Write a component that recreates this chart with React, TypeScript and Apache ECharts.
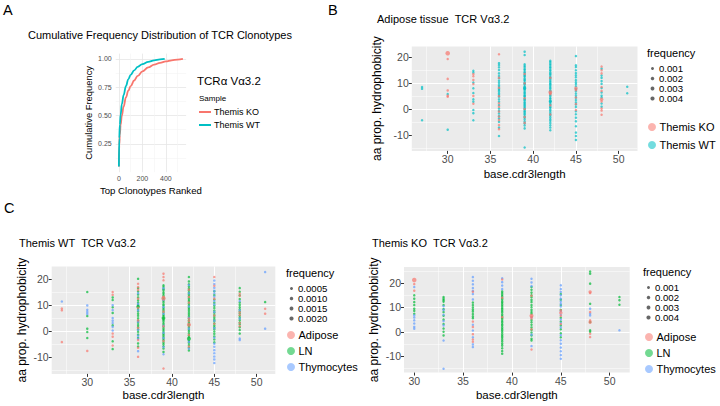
import { useEffect, useRef } from "react";
import * as echarts from "echarts";

const FONT = '"Liberation Sans", Arial, Helvetica, sans-serif';

const RED = "#F8766D";
const TEAL = "#00BFC4";
const GREEN = "#00BA38";
const BLUE = "#619CFF";

// ---- Panel A: cumulative frequency of ranked clonotypes ----
const rankKO = [0, 3, 8, 15, 25, 40, 60, 80, 100, 130, 160, 200, 250, 300, 350, 400, 450, 500, 545];
const cumKO = [0.05, 0.24, 0.33, 0.42, 0.5, 0.58, 0.66, 0.72, 0.76, 0.81, 0.85, 0.89, 0.925, 0.95, 0.966, 0.978, 0.988, 0.995, 1.0];
const rankWT = [0, 3, 8, 15, 25, 40, 60, 80, 100, 130, 160, 200, 250, 300, 350, 390];
const cumWT = [0.05, 0.3, 0.42, 0.51, 0.6, 0.68, 0.76, 0.82, 0.86, 0.9, 0.93, 0.955, 0.975, 0.988, 0.996, 1.0];
const aYTicks = [0.25, 0.5, 0.75, 1.0];
const aXTicks = [0, 200, 400];

// ---- Scatter panels: hydrophobicity per CDR3 length (bases) ----
type Cols = Record<number, number[]>;
type Heavy = [number, number, number][];

const lengthTicks = [30, 35, 40, 45, 50];
const hydroTicks = [-10, 0, 10, 20];

// B: adipose tissue, Themis KO vs Themis WT
const bKO: Cols = {
  30: [19.2, 11.6, 7.2, 5.2, 4.8],
  33: [13.4, 12.6, 11.2, 9.6, 5.1, 2.1],
  36: [21.0, 12.0, 8.2, 5.0, 2.3, 1.0, -0.9, -2.8, -4.1, -6.0, -7.6],
  39: [13.5, 9.9, 4.2, 0.1, -3.0, -5.2],
  42: [12.0, 6.2, 5.7, 1.5, -2.0],
  45: [7.3, 4.5, 2.0, -0.3],
  48: [16.3, 14.9, 13.7, 8.5, 7.0, 3.0, 0.3, -0.5, -2.1],
};
const bKOHeavy: Heavy = [[30, 21.4, 0.005], [42, 6.5, 0.003], [45, 8.0, 0.0025], [48, 3.8, 0.002]];
const bWT: Cols = {
  27: [8.5, 7.8, -4.2],
  30: [5.8, -7.8],
  33: [14.7, 14.0, 10.2, 8.0, 6.2, 3.8, 2.9, -0.3, -1.5, -4.2],
  36: [17.6, 16.9, 16.0, 15.0, 13.7, 12.7, 11.8, 10.9, 10.1, 9.2, 8.6, 7.9, 7.4, 6.8, 6.1, 5.5, 4.8, 3.8, 2.9, 1.6, 0.3, -0.6, -1.6, -2.6, -3.5, -4.8, -7.0, -10.2],
  39: [22.0, 20.7, 17.2, 16.6, 16.1, 15.4, 15.0, 14.3, 13.9, 13.2, 12.8, 12.4, 11.7, 11.3, 10.9, 10.2, 9.8, 9.5, 8.8, 8.4, 7.9, 7.6, 7.0, 6.4, 6.1, 5.5, 5.1, 4.8, 4.1, 3.7, 3.4, 2.7, 2.3, 1.8, 1.4, 0.9, 0.4, 0.0, -0.6, -1.0, -1.6, -2.0, -2.7, -3.2, -3.9, -4.7, -5.4, -6.2, -7.3, -14.6],
  42: [18.5, 18.0, 17.4, 16.9, 16.2, 15.8, 15.1, 14.7, 14.0, 13.6, 13.1, 12.4, 12.0, 11.5, 10.9, 10.4, 9.8, 9.5, 8.9, 8.3, 7.9, 7.2, 6.8, 6.0, 5.4, 5.0, 4.3, 3.9, 3.2, 2.8, 2.1, 1.7, 1.0, 0.6, -0.1, -0.6, -1.3, -1.9, -2.4, -3.1, -3.8, -4.4, -5.2, -6.1, -7.0, -8.0],
  45: [20.3, 16.8, 16.1, 14.9, 13.8, 13.0, 12.2, 11.1, 10.3, 9.6, 8.8, 7.7, 6.9, 6.0, 5.2, 4.4, 3.5, 2.6, 1.8, 0.9, -0.8, -1.9, -3.2, -4.6, -6.5, -8.9, -10.2, -11.7],
  48: [15.5, 12.9, 12.0, 10.8, 9.7, 8.1, 6.4, 5.2, 4.5, 2.2, 1.0],
  51: [8.6, 6.1],
};
const bWTHeavy: Heavy = [[39, 8.0, 0.0018], [42, 3.0, 0.0015]];
const bFreqBreaks = [0.001, 0.002, 0.003, 0.004];
const bFreqLabels = ["0.001", "0.002", "0.003", "0.004"];

// C (left): Themis WT across tissues
const c1Adipose: Cols = {
  27: [8.7, 8.0, -4.3],
  30: [-7.7],
  33: [15.1, 14.0, -1.0, -2.2, -5.6],
  36: [18.3, 17.0, 15.9, 12.5, 9.0, 4.1, 1.2, -3.5, -6.5, -10.0],
  39: [22.2, 20.9, 19.6, 13.2, 7.5, 1.8, -3.9, -14.5],
  42: [16.0, 13.2, 11.0, 4.8, 3.9, -1.5, -6.0],
  45: [20.9, 17.5, 12.5, 6.0, 2.8],
  48: [14.5, 13.6, 7.2, 6.2, 3.1, 1.9],
  51: [8.6, 6.7],
};
const c1AdiposeHeavy: Heavy = [[39, 12.6, 0.0022], [42, 2.4, 0.0018]];
const c1LN: Cols = {
  30: [15.1, 5.8, 0.9, -0.4, -2.7],
  33: [13.0, 12.0, 9.2, 7.0, 2.2, -4.0, -7.0],
  36: [20.2, 16.6, 15.3, 14.1, 13.0, 11.9, 11.0, 10.1, 9.3, 8.5, 7.6, 6.7, 5.9, 4.9, 4.0, 3.2, 2.3, 1.5, 0.6, -0.3, -1.4, -2.6, -4.8, -6.0],
  39: [17.7, 17.1, 16.3, 15.8, 15.0, 14.4, 13.7, 13.0, 12.4, 11.7, 11.1, 10.3, 9.8, 9.0, 8.4, 7.8, 7.1, 6.3, 5.8, 5.0, 4.3, 3.7, 3.0, 2.4, 1.7, 1.0, 0.4, -0.3, -1.0, -1.6, -2.3, -3.0, -3.6, -4.4, -5.1, -5.9, -6.8, -8.1],
  42: [20.9, 19.2, 18.1, 17.2, 16.4, 15.7, 14.9, 14.2, 13.5, 12.7, 12.0, 11.4, 10.6, 9.9, 9.1, 8.5, 7.8, 7.0, 6.3, 5.6, 4.9, 4.1, 3.4, 2.7, 2.0, 1.3, 0.5, -0.2, -1.0, -1.8, -2.5, -3.7, -4.5, -5.4, -6.4, -7.5],
  45: [15.4, 13.9, 12.2, 10.9, 9.8, 8.9, 7.9, 7.1, 6.2, 5.4, 4.6, 3.9, 3.0, 2.2, 1.5, 0.7, -0.2, -1.1, -2.1, -3.3, -4.4],
  48: [16.6, 15.2, 13.8, 12.4, 11.0, 10.1, 9.2, 8.4, 7.6, 6.8, 5.9, 5.1, 4.2, 3.3, 2.6, 1.5, 0.4, -1.0],
  51: [11.2],
};
const c1LNHeavy: Heavy = [[42, -3.0, 0.0018], [39, 5.0, 0.0015], [36, 9.5, 0.0012]];
const c1Thymo: Cols = {
  27: [11.4],
  30: [9.9, 8.2, 7.4, 6.6],
  33: [10.0, 8.1, 5.0, 4.0, 3.1, 1.6, 0.2],
  36: [14.6, 10.5, 8.0, 3.6, 0.5, -1.8, -3.0, -7.8],
  39: [16.5, 12.0, 9.3, 6.7, 2.0, -0.7, -2.7, -6.2, -9.0],
  42: [17.8, 14.6, 9.5, 5.1, 0.9, -4.2, -6.8],
  45: [19.5, 18.2, 16.7, 15.6, 14.6, 13.3, 11.6, 10.3, 7.4, 4.0, 1.1, -2.6, -4.9, -6.1, -7.4, -8.6, -9.9, -11.0, -12.4],
  48: [11.6, 8.0, 4.8, -2.9, -3.5],
  51: [22.8, 0.9],
};
const c1FreqBreaks = [0.0005, 0.001, 0.0015, 0.002];
const c1FreqLabels = ["0.0005", "0.0010", "0.0015", "0.0020"];

// C (right): Themis KO across tissues
const c2Adipose: Cols = {
  30: [19.6, 16.9],
  36: [16.5, 4.2, 2.0, -1.0, -3.2, -4.1],
  39: [21.5, 14.0, 6.0],
  42: [14.8, 6.2, 5.5, 1.0, -7.3],
  45: [8.8, 6.6, 3.2],
  48: [15.9, 8.1, 4.7, -0.8, -2.2],
};
const c2AdiposeHeavy: Heavy = [[30, 21.3, 0.005], [42, 6.6, 0.0035], [45, 7.8, 0.002], [48, 16.4, 0.0018], [48, 3.9, 0.0018]];
const c2LN: Cols = {
  30: [15.0, 13.6, 12.2, 11.0, 9.5, 8.6, 7.4],
  33: [14.3, 13.6, 13.0, 12.4, 11.0, 9.3, 8.1, 6.6, 5.0, 3.2, 1.3, 0.0, -1.5],
  36: [12.0, 11.0, 10.0, 9.1, 8.3, 7.3, 6.4, 5.6],
  39: [16.6, 15.9, 15.2, 14.6, 13.9, 13.3, 12.5, 11.9, 11.2, 10.6, 9.8, 9.2, 8.5, 7.9, 7.1, 6.5, 5.8, 5.2, 4.4, 3.8, 3.1, 2.5, 1.7, 1.0, 0.4, -0.3, -1.1, -1.8, -2.5, -3.3, -4.0, -4.9, -5.7, -6.8, -7.9, -9.0],
  42: [18.4, 17.3, 16.1, 15.0, 14.2, 13.1, 12.2, 11.0, 10.1, 9.0, 8.1, 7.4, 4.8, 3.9, 2.9, 1.8, 0.8, -0.3, -1.5, -2.9, -3.6],
  45: [15.5, 13.2, 11.0, 9.0, 5.8, 4.2, 2.6, 1.0, -0.6, -2.3],
  48: [24.8, 23.9, 19.8, 11.5, 4.0, 0.6, 0.0],
  51: [14.3, 13.0, 11.1],
};
const c2Thymo: Cols = {
  30: [18.4, 6.8, 5.9, 4.7, 3.4, 2.0, 1.25],
  33: [10.5, 9.0, 7.0, 4.4, 2.6, -3.6, -15.2],
  36: [22.5, 21.0, 19.5, 18.0, 16.8, 15.5, 13.3, 2.9, 0.5, -2.3, -5.2, -6.3],
  39: [22.0, 20.4, 19.0, 17.6],
  42: [21.8, 20.3, 18.8, 5.9, -1.2, -5.9],
  45: [19.1, 17.6, 16.4, 15.0, 13.7, 12.4, 11.5, 10.4, 8.4, 7.0, 5.0, 3.6, 1.8, -1.4, -3.5, -4.9, -6.5, -8.0, -9.6, -11.1],
  48: [9.5, 7.4, 6.7],
  51: [0.6],
};
const c2FreqBreaks = [0.001, 0.002, 0.003, 0.004];
const c2FreqLabels = ["0.001", "0.002", "0.003", "0.004"];

function toPoints(cols: Cols, freq: number, heavy: Heavy = []) {
  const pts: number[][] = [];
  Object.keys(cols).forEach((k) => {
    const x = Number(k);
    cols[x].forEach((y) => pts.push([x, y, freq]));
  });
  heavy.forEach((h) => pts.push([h[0], h[1], h[2]]));
  return pts;
}

const dotSize = (f: number, fmax: number) => 1.7 + 2.5 * Math.sqrt(f / fmax);

type Box = { left: number; top: number; width: number; height: number };
const boxA: Box = { left: 115.7, top: 53.6, width: 70.4, height: 118.6 };
const boxB: Box = { left: 411.8, top: 46.4, width: 225.7, height: 104.5 };
const boxC1: Box = { left: 51.7, top: 266.4, width: 223.6, height: 107.5 };
const boxC2: Box = { left: 404.0, top: 267.1, width: 225.7, height: 105.5 };

function greyGrid(b: Box) {
  return { ...b, show: true, backgroundColor: "#EBEBEB", borderWidth: 0, containLabel: false };
}

function ggAxis(gridIndex: number, min: number, max: number, ticks: number[]) {
  return {
    type: "value" as const,
    gridIndex,
    min,
    max,
    splitNumber: 5,
    axisLine: { show: false, onZero: false },
    axisTick: { show: true, length: 3, customValues: ticks, lineStyle: { color: "#333333", width: 1 } },
    axisLabel: { customValues: ticks, color: "#4D4D4D", fontSize: 10.5, fontFamily: FONT, margin: 3 },
    splitLine: { show: true, showMinLine: false, showMaxLine: false, lineStyle: { color: "#FFFFFF", width: 1.1 } },
    minorTick: { show: false, splitNumber: 2 },
    minorSplitLine: { show: true, lineStyle: { color: "#FFFFFF", width: 0.5 } },
  };
}

function scatter(name: string, idx: number, pts: number[][], color: string, fmax: number, z: number) {
  return {
    type: "scatter" as const,
    name,
    xAxisIndex: idx,
    yAxisIndex: idx,
    data: pts,
    symbol: "circle",
    symbolSize: (v: number[]) => dotSize(v[2], fmax),
    itemStyle: { color, opacity: 0.7 },
    silent: true,
    z,
  };
}

function txt(text: string, x: number, y: number, size: number, opts: Record<string, unknown> = {}) {
  const { align = "left", color = "#000000", rotate = 0 } = opts as { align?: string; color?: string; rotate?: number };
  return {
    type: "text",
    x,
    y,
    rotation: rotate,
    silent: true,
    style: { text, font: `${size}px ${FONT}`, fill: color, textAlign: align, textVerticalAlign: "middle" },
  };
}

function freqLegend(x: number, y: number, breaks: number[], labels: string[], fmax: number) {
  const els: any[] = [txt("frequency", x, y, 11)];
  breaks.forEach((b, i) => {
    const cy = y + 15.5 + i * 10;
    els.push({ type: "circle", silent: true, shape: { cx: x + 5.5, cy, r: dotSize(b, fmax) / 2 }, style: { fill: "#333333", opacity: 0.75 } });
    els.push(txt(labels[i], x + 12, cy, 9.6));
  });
  return els;
}

function colourKey(x: number, ys: number[], names: string[], colors: string[]) {
  const els: any[] = [];
  names.forEach((n, i) => {
    els.push({ type: "circle", silent: true, shape: { cx: x, cy: ys[i], r: 4 }, style: { fill: colors[i], opacity: 0.55 } });
    els.push(txt(n, x + 7.5, ys[i], 11));
  });
  return els;
}

export default function App() {
  const ref = useRef<HTMLDivElement>(null);

  useEffect(() => {
    if (!ref.current) return;
    const chart = echarts.init(ref.current, undefined, { renderer: "svg" });

    const aMinor = "#F3F3F3";
    const aMajor = "#E6E6E6";

    const option: any = {
      animation: false,
      backgroundColor: "#FFFFFF",
      grid: [
        { ...boxA, show: false, containLabel: false },
        greyGrid(boxB),
        greyGrid(boxC1),
        greyGrid(boxC2),
      ],
      xAxis: [
        {
          type: "value",
          gridIndex: 0,
          min: -27.25,
          max: 572.25,
          splitNumber: 3,
          axisLine: { show: false, onZero: false },
          axisTick: { show: false },
          axisLabel: { customValues: aXTicks, color: "#4D4D4D", fontSize: 7, fontFamily: FONT, margin: 3 },
          splitLine: { show: true, showMinLine: false, showMaxLine: false, lineStyle: { color: aMajor, width: 0.8 } },
          minorTick: { show: false, splitNumber: 2 },
          minorSplitLine: { show: true, lineStyle: { color: aMinor, width: 0.6 } },
        },
        ggAxis(1, 25.8, 52.2, lengthTicks),
        ggAxis(2, 25.8, 52.2, lengthTicks),
        ggAxis(3, 28.95, 52.05, lengthTicks),
      ],
      yAxis: [
        {
          type: "value",
          gridIndex: 0,
          min: 0,
          max: 1.0475,
          interval: 0.25,
          axisLine: { show: false, onZero: false },
          axisTick: { show: false },
          axisLabel: {
            customValues: aYTicks,
            color: "#4D4D4D",
            fontSize: 7,
            fontFamily: FONT,
            margin: 4,
            formatter: (v: number) => v.toFixed(2),
          },
          splitLine: { show: true, showMinLine: false, showMaxLine: false, lineStyle: { color: aMajor, width: 0.8 } },
          minorTick: { show: false, splitNumber: 2 },
          minorSplitLine: { show: true, lineStyle: { color: aMinor, width: 0.6 } },
        },
        ggAxis(1, -15.9, 24, hydroTicks),
        ggAxis(2, -16.6, 25, hydroTicks),
        ggAxis(3, -16.8, 26.6, hydroTicks),
      ],
      series: [
        {
          type: "line",
          name: "Themis KO",
          xAxisIndex: 0,
          yAxisIndex: 0,
          data: rankKO.map((r, i) => [r, cumKO[i]]),
          showSymbol: false,
          smooth: 0.4,
          smoothMonotone: "x",
          lineStyle: { color: RED, width: 1.8 },
          silent: true,
        },
        {
          type: "line",
          name: "Themis WT",
          xAxisIndex: 0,
          yAxisIndex: 0,
          data: rankWT.map((r, i) => [r, cumWT[i]]),
          showSymbol: false,
          smooth: 0.4,
          smoothMonotone: "x",
          lineStyle: { color: TEAL, width: 1.8 },
          silent: true,
        },
        scatter("Themis WT", 1, toPoints(bWT, 0.0004, bWTHeavy), TEAL, 0.004, 2),
        scatter("Themis KO", 1, toPoints(bKO, 0.0004, bKOHeavy), RED, 0.004, 3),
        scatter("LN", 2, toPoints(c1LN, 0.0002, c1LNHeavy), GREEN, 0.002, 2),
        scatter("Thymocytes", 2, toPoints(c1Thymo, 0.0002), BLUE, 0.002, 3),
        scatter("Adipose", 2, toPoints(c1Adipose, 0.0002, c1AdiposeHeavy), RED, 0.002, 4),
        scatter("LN", 3, toPoints(c2LN, 0.0004), GREEN, 0.004, 2),
        scatter("Thymocytes", 3, toPoints(c2Thymo, 0.0004), BLUE, 0.004, 3),
        scatter("Adipose", 3, toPoints(c2Adipose, 0.0004, c2AdiposeHeavy), RED, 0.004, 4),
      ],
      graphic: [
        // Panel A
        txt("A", 3, 10, 14.5),
        txt("Cumulative Frequency Distribution of TCR Clonotypes", 28, 35, 11),
        txt("Cumulative Frequency", 88, boxA.top + boxA.height / 2, 9.4, { align: "center", rotate: Math.PI / 2 }),
        txt("Top Clonotypes Ranked", boxA.left + boxA.width / 2, 190, 9.6, { align: "center" }),
        txt("TCRα Vα3.2", 197, 81, 11.5),
        txt("Sample", 199, 98, 8),
        { type: "line", silent: true, shape: { x1: 199, y1: 112, x2: 211, y2: 112 }, style: { stroke: RED, lineWidth: 2 } },
        { type: "line", silent: true, shape: { x1: 199, y1: 125, x2: 211, y2: 125 }, style: { stroke: TEAL, lineWidth: 2 } },
        txt("Themis KO", 214, 112, 9),
        txt("Themis WT", 214, 125, 9),

        // Panel B
        txt("B", 328, 10, 14.5),
        txt("Adipose tissue \u00A0TCR Vα3.2", 377, 19, 11),
        txt("aa prop. hydrophobicity", 377, boxB.top + boxB.height / 2, 12, { align: "center", rotate: Math.PI / 2 }),
        txt("base.cdr3length", boxB.left + boxB.width / 2, 173.5, 11.5, { align: "center" }),
        ...freqLegend(647, 53, bFreqBreaks, bFreqLabels, 0.004),
        ...colourKey(652, [127, 145], ["Themis KO", "Themis WT"], [RED, TEAL]),

        // Panel C
        txt("C", 4, 208, 14.5),
        txt("Themis WT \u00A0TCR Vα3.2", 19, 243, 11),
        txt("aa prop. hydrophobicity", 22, boxC1.top + boxC1.height / 2, 12, { align: "center", rotate: Math.PI / 2 }),
        txt("base.cdr3length", boxC1.left + boxC1.width / 2, 395, 11.5, { align: "center" }),
        ...freqLegend(286, 273, c1FreqBreaks, c1FreqLabels, 0.002),
        ...colourKey(291, [335, 351, 367], ["Adipose", "LN", "Thymocytes"], [RED, GREEN, BLUE]),

        txt("Themis KO \u00A0TCR Vα3.2", 372, 243, 11),
        txt("aa prop. hydrophobicity", 374, boxC2.top + boxC2.height / 2, 12, { align: "center", rotate: Math.PI / 2 }),
        txt("base.cdr3length", boxC2.left + boxC2.width / 2, 394.5, 11.5, { align: "center" }),
        ...freqLegend(643, 272, c2FreqBreaks, c2FreqLabels, 0.004),
        ...colourKey(649, [337, 353, 369], ["Adipose", "LN", "Thymocytes"], [RED, GREEN, BLUE]),
      ],
    };

    chart.setOption(option);
    return () => chart.dispose();
  }, []);

  return <div ref={ref} style={{ position: "absolute", left: 0, top: 0, width: 720, height: 406 }} />;
}
